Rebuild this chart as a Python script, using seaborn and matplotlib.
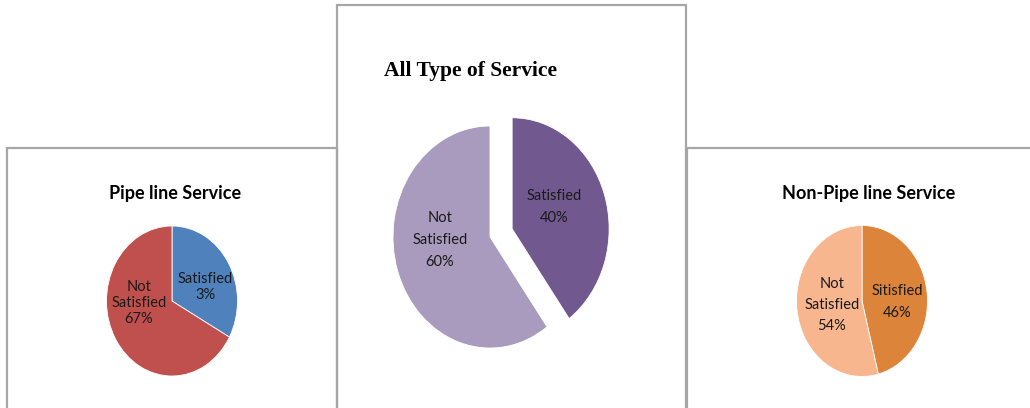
import matplotlib
matplotlib.use("Agg")
import matplotlib.pyplot as plt
from matplotlib.lines import Line2D
import seaborn as sns

sns.set_theme(style="white")
plt.rcParams['font.family'] = ['Lato', 'DejaVu Sans']

# data
categories = ["Satisfied", "Not Satisfied"]
pipe_values = [33, 67]
all_values = [40, 60]
nonpipe_values = [46, 54]
pipe_labels = ["Satisfied\n3%", "Not\nSatisfied\n67%"]
all_labels = ["Satisfied\n40%", "Not\nSatisfied\n60%"]
nonpipe_labels = ["Sitisfied\n46%", "Not\nSatisfied\n54%"]
titles = ["Pipe line Service", "All Type of Service", "Non-Pipe line Service"]

pipe_colors = ["#4F81BD", "#C0504D"]
all_colors = ["#71588F", "#A99BBD"]
nonpipe_colors = ["#DD843B", "#F8B68F"]

W, H = 1030, 408
fig = plt.figure(figsize=(W / 100, H / 100), dpi=100)
fig.patch.set_facecolor("white")


def box(x0, x1, y0, y1, lw=1.6, color="#A6A6A6"):
    # panel frame in pixel coords (y from top)
    for xs, ys in [([x0, x0], [y0, y1]), ([x0, x1], [y0, y0]), ([x1, x1], [y0, y1])]:
        fig.add_artist(Line2D([x / W for x in xs], [1 - y / H for y in ys],
                              color=color, lw=lw, transform=fig.transFigure))


def panel(px, center, rx, ry, values, colors, labels, label_off, title, title_y,
          title_font, title_size, label_size, spacing, explode=None):
    x0, x1, y0, y1 = px
    ax = fig.add_axes([x0 / W, 1 - y1 / H, (x1 - x0) / W, (y1 - y0) / H])
    ax.set_axis_off()
    cx, cy = center
    ax.pie(values, colors=colors, startangle=90, counterclock=False,
           explode=explode, wedgeprops=dict(edgecolor="white", linewidth=0.6))
    ax.set_aspect("auto")
    ax.set_xlim((x0 - cx) / rx, (x1 - cx) / rx)
    ax.set_ylim((cy - y1) / ry, (cy - y0) / ry)
    for lab, (dx, dy) in zip(labels, label_off):
        ax.text(dx / rx, -dy / ry, lab, ha="center", va="center",
                fontsize=label_size, color="#1a1a1a", linespacing=spacing,
                family=["Lato", "DejaVu Sans"])
    tx, ty = title_y
    ax.text((tx - cx) / rx, (cy - ty) / ry, title, ha="center", va="center",
            fontsize=title_size, fontweight="bold", color="black",
            family=title_font)


box(7, 337, 148, 420)
box(687, 1040, 148, 420)
box(337, 686, 5, 420)

panel((8, 336, 149, 408), (172, 301), 65.5, 75, pipe_values, pipe_colors,
      pipe_labels, [(33, -14), (-33, 2)], titles[0], (175, 193),
      ["Lato", "DejaVu Sans"], 13, 10.5, 1.15)
panel((338, 685, 6, 408), (490, 237), 97, 111, all_values, all_colors,
      all_labels, [(64, -30), (-50, 3)], titles[1], (471, 71),
      ["Liberation Serif", "DejaVu Serif"], 15.5, 10.5, 1.75,
      explode=[0.24, 0])
panel((688, 1030, 149, 408), (862, 301), 65.5, 75.5, nonpipe_values,
      nonpipe_colors, nonpipe_labels, [(35, 1), (-30, 4)], titles[2],
      (869, 193), ["Lato", "DejaVu Sans"], 13, 10.5, 1.65)

fig.savefig("out.png", dpi=100, facecolor="white")
